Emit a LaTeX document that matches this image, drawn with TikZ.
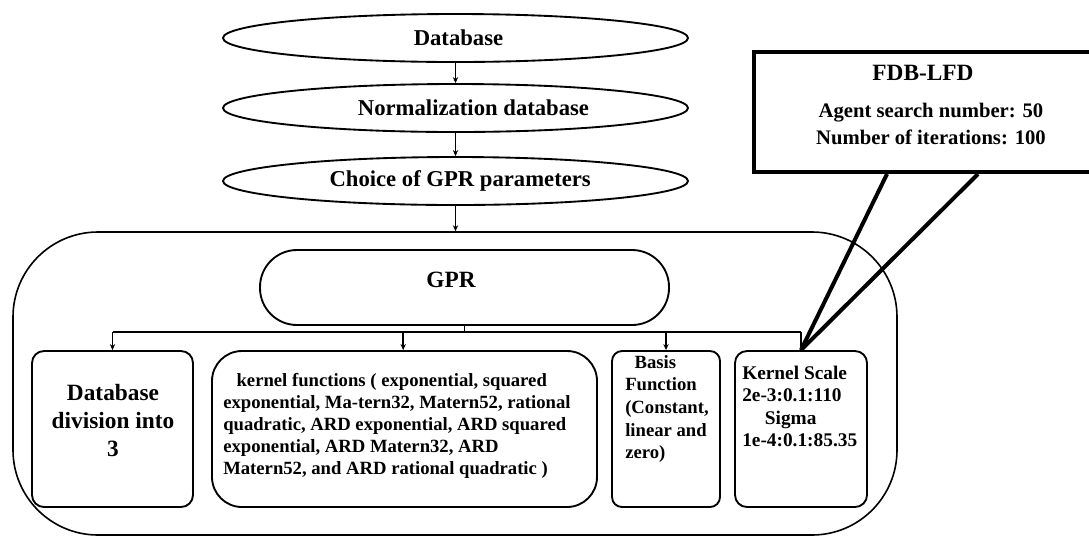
\documentclass[tikz,border=0pt]{standalone}
\usepackage{fontspec}
\setmainfont{Liberation Serif}
\usetikzlibrary{shapes.geometric,arrows.meta,calc}
\begin{document}
\begin{tikzpicture}[x=0.75pt,y=-0.75pt,
  every node/.style={font=\bfseries},
  oval/.style={draw, ellipse, line width=1.4pt, minimum width={465*0.75pt}, minimum height={48*0.75pt}, inner sep=0pt, font=\bfseries\fontsize{17}{20}\selectfont},
  panel/.style={draw, line width=1.4pt, minimum height={156*0.75pt}, inner sep=0pt},
  txt/.style={inner sep=0pt},
  conn/.style={line width=1.3pt},
  arr/.style={line width=1.3pt, -{Stealth[length=4.5pt,width=4pt]}},
  callout/.style={line width=3pt}
]
\useasboundingbox (0,0) rectangle (1089,537);
\clip (0,0) rectangle (1089,537);

% top chain
\node[oval] (db) at (455.5,38) {\hspace*{4.5pt}Database};
\node[oval] (norm) at (455.5,108) {\hspace*{27pt}Normalization database};
\node[oval] (choice) at (455.5,181) {\hspace*{7pt}Choice of GPR parameters};

% outer container
\node[draw, line width=1.2pt, rounded corners={85*0.75pt}, minimum width={884*0.75pt}, minimum height={303*0.75pt}, inner sep=0pt] (outer) at (455,383.5) {};

\draw[arr] (db.south) -- (norm.north);
\draw[arr] (norm.south) -- (choice.north);
\draw[arr] (choice.south) -- (choice.south |- outer.north);

% GPR
\node[draw, line width=1.4pt, rounded corners={37*0.75pt}, minimum width={409*0.75pt}, minimum height={75*0.75pt}, inner sep=0pt] (gpr) at (464.5,287.5) {};
\node[txt, font=\bfseries\fontsize{17.5}{20}\selectfont] (gprtxt) at (451,280) {GPR};

% lower boxes
\node[panel, rounded corners={12*0.75pt}, minimum width={161*0.75pt}] (b1) at (112.5,429) {};
\node[panel, rounded corners={30*0.75pt}, minimum width={385*0.75pt}] (b2) at (404.5,429) {};
\node[panel, rounded corners={10*0.75pt}, minimum width={108*0.75pt}] (b3) at (666,429) {};
\node[panel, rounded corners={12*0.75pt}, minimum width={132*0.75pt}] (b4) at (801,429) {};

% branch
\coordinate (br) at (464.5,332);
\draw[conn] (gpr.south) -- (br);
\draw[conn] (b1.north |- br) -- (b4.north |- br);
\draw[arr] (b1.north |- br) -- (b1.north);
\draw[arr] ([xshift=-1pt]b2.north |- br) -- ([xshift=-1pt]b2.north);
\draw[arr] (b3.north |- br) -- (b3.north);
\draw[conn] (b4.north |- br) -- (b4.north);

% texts in boxes
\node[txt, align=center, font=\bfseries\fontsize{17.5}{21}\selectfont] (b1txt) at (113,421) {Database\\division into\\3};
\node[txt, align=left, anchor=west, font=\bfseries\fontsize{14}{16.5}\selectfont] (b2txt) at (223,426) {\hspace*{10pt}kernel functions ( exponential, squared\\exponential, Ma-tern32, Matern52, rational\\quadratic, ARD exponential, ARD squared\\exponential, ARD Matern32, ARD\\Matern52, and ARD rational quadratic )};
\node[txt, align=left, anchor=west, font=\bfseries\fontsize{14}{16.9}\selectfont] (b3txt) at (625,409) {\hspace*{7pt}Basis\\Function\\(Constant,\\linear and\\zero)};
\node[txt, align=left, anchor=west, font=\bfseries\fontsize{14.5}{16.7}\selectfont] (b4txt) at (742,406.5) {Kernel Scale\\2e-3:0.1:110\\\hspace*{17pt}Sigma\\1e-4:0.1:85.35};

% FDB-LFD callout
\node[draw, line width=3pt, minimum width={400*0.75pt}, minimum height={120*0.75pt}, anchor=north west, inner sep=0pt] (fdb) at (752,50) {};
\node[txt, font=\bfseries\fontsize{17.5}{20}\selectfont] (fdbtitle) at (923,73) {FDB-LFD};
\node[txt, align=center, font=\bfseries\fontsize{15.5}{20.3}\selectfont] (fdbbody) at (931,124) {Agent search number: 50\\Number of iterations: 100};
\draw[callout] ([xshift={135*0.75pt}]fdb.south west) -- (b4.north);
\draw[callout] ([xshift={226*0.75pt}]fdb.south west) -- (b4.north);
\end{tikzpicture}
\end{document}
